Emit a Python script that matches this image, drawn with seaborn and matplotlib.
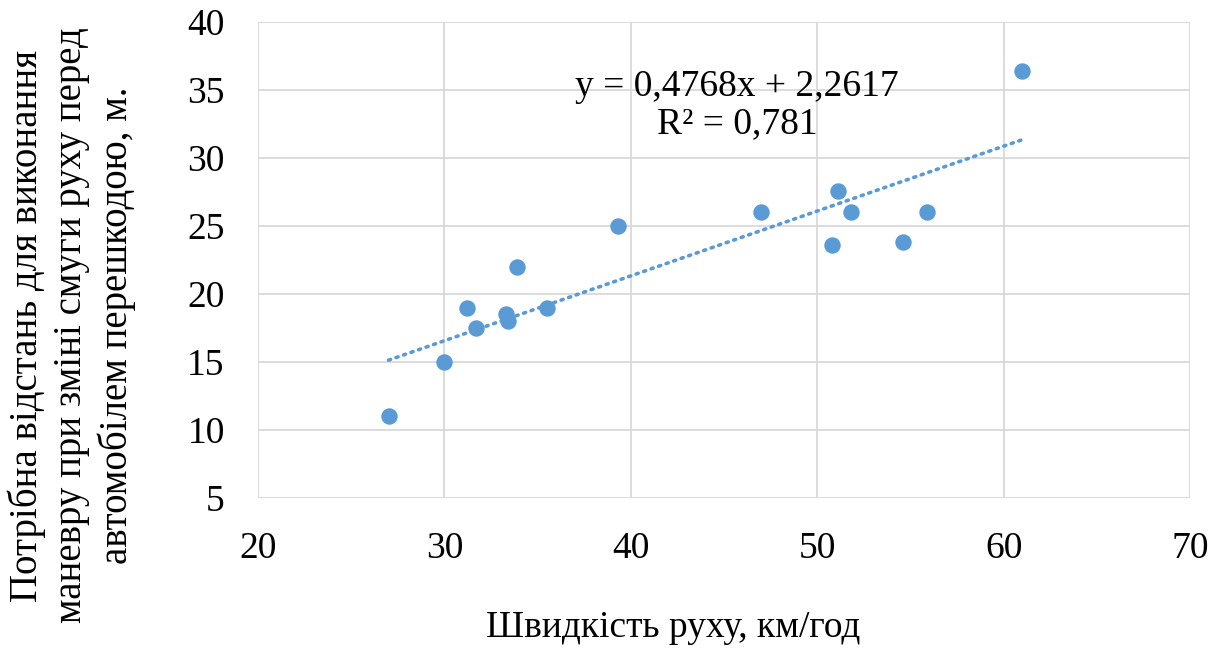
import numpy as np
import pandas as pd
import matplotlib
matplotlib.use("Agg")
import matplotlib.pyplot as plt
import seaborn as sns

# values
speed = [27.0, 30.0, 31.2, 31.7, 33.3, 33.4, 33.9, 35.5, 39.3, 47.0, 50.8, 51.1, 51.8, 54.6, 55.9, 61.0]
distance = [11.0, 15.0, 19.0, 17.5, 18.5, 18.0, 22.0, 19.0, 25.0, 26.0, 23.6, 27.6, 26.0, 23.8, 26.0, 36.4]
slope, intercept = 0.4768, 2.2617
r2_text = "R² = 0,781"

sns.set_theme(style="white")
plt.rcParams['font.family'] = ['Liberation Serif', 'DejaVu Serif']
plt.rcParams['text.color'] = 'black'

df = pd.DataFrame({'speed': speed, 'distance': distance})
color = '#5b9bd5'
fs = 27

fig = plt.figure(figsize=(12.2, 6.51), dpi=100)
ax = fig.add_axes([0.2115, 0.235, 0.7639, 0.7312])

sns.scatterplot(data=df, x='speed', y='distance', ax=ax, s=140, color=color,
                edgecolor=color, linewidth=0, zorder=3)

# linear trend line across the data range
xs = np.linspace(min(speed), max(speed), 50)
ax.plot(xs, slope * xs + intercept, linestyle=(0, (0.6, 1.6)), color=color,
        linewidth=2.6, dash_capstyle='round', zorder=2)

ax.text(0.514, 0.824, "y = 0,4768x + 2,2617\n" + r2_text, transform=ax.transAxes,
        ha='center', va='center', fontsize=fs, linespacing=1.1, color='black')

ax.set_xlim(20, 70)
ax.set_ylim(5, 40)
ax.set_xticks(range(20, 71, 10))
ax.set_yticks(range(5, 41, 5))
ax.grid(True, color='#d9d9d9', linewidth=1.3)
for s in ax.spines.values():
    s.set_visible(False)
ax.tick_params(axis='both', labelsize=fs, length=0, labelcolor='black')
ax.tick_params(axis='y', pad=24)
ax.tick_params(axis='x', pad=24)
ax.set_xlabel("")
ax.set_ylabel("")

fig.text(0.5516, 0.035, "Швидкість руху, км/год", ha='center', va='center', fontsize=fs)
fig.text(0.059, 0.5, "Потрібна відстань для виконання\nманевру при зміні смуги руху перед\nавтомобілем перешкодою, м.",
         rotation=90, ha='center', va='center', multialignment='center', fontsize=28, linespacing=1.25)

fig.savefig("out.png", dpi=100)
